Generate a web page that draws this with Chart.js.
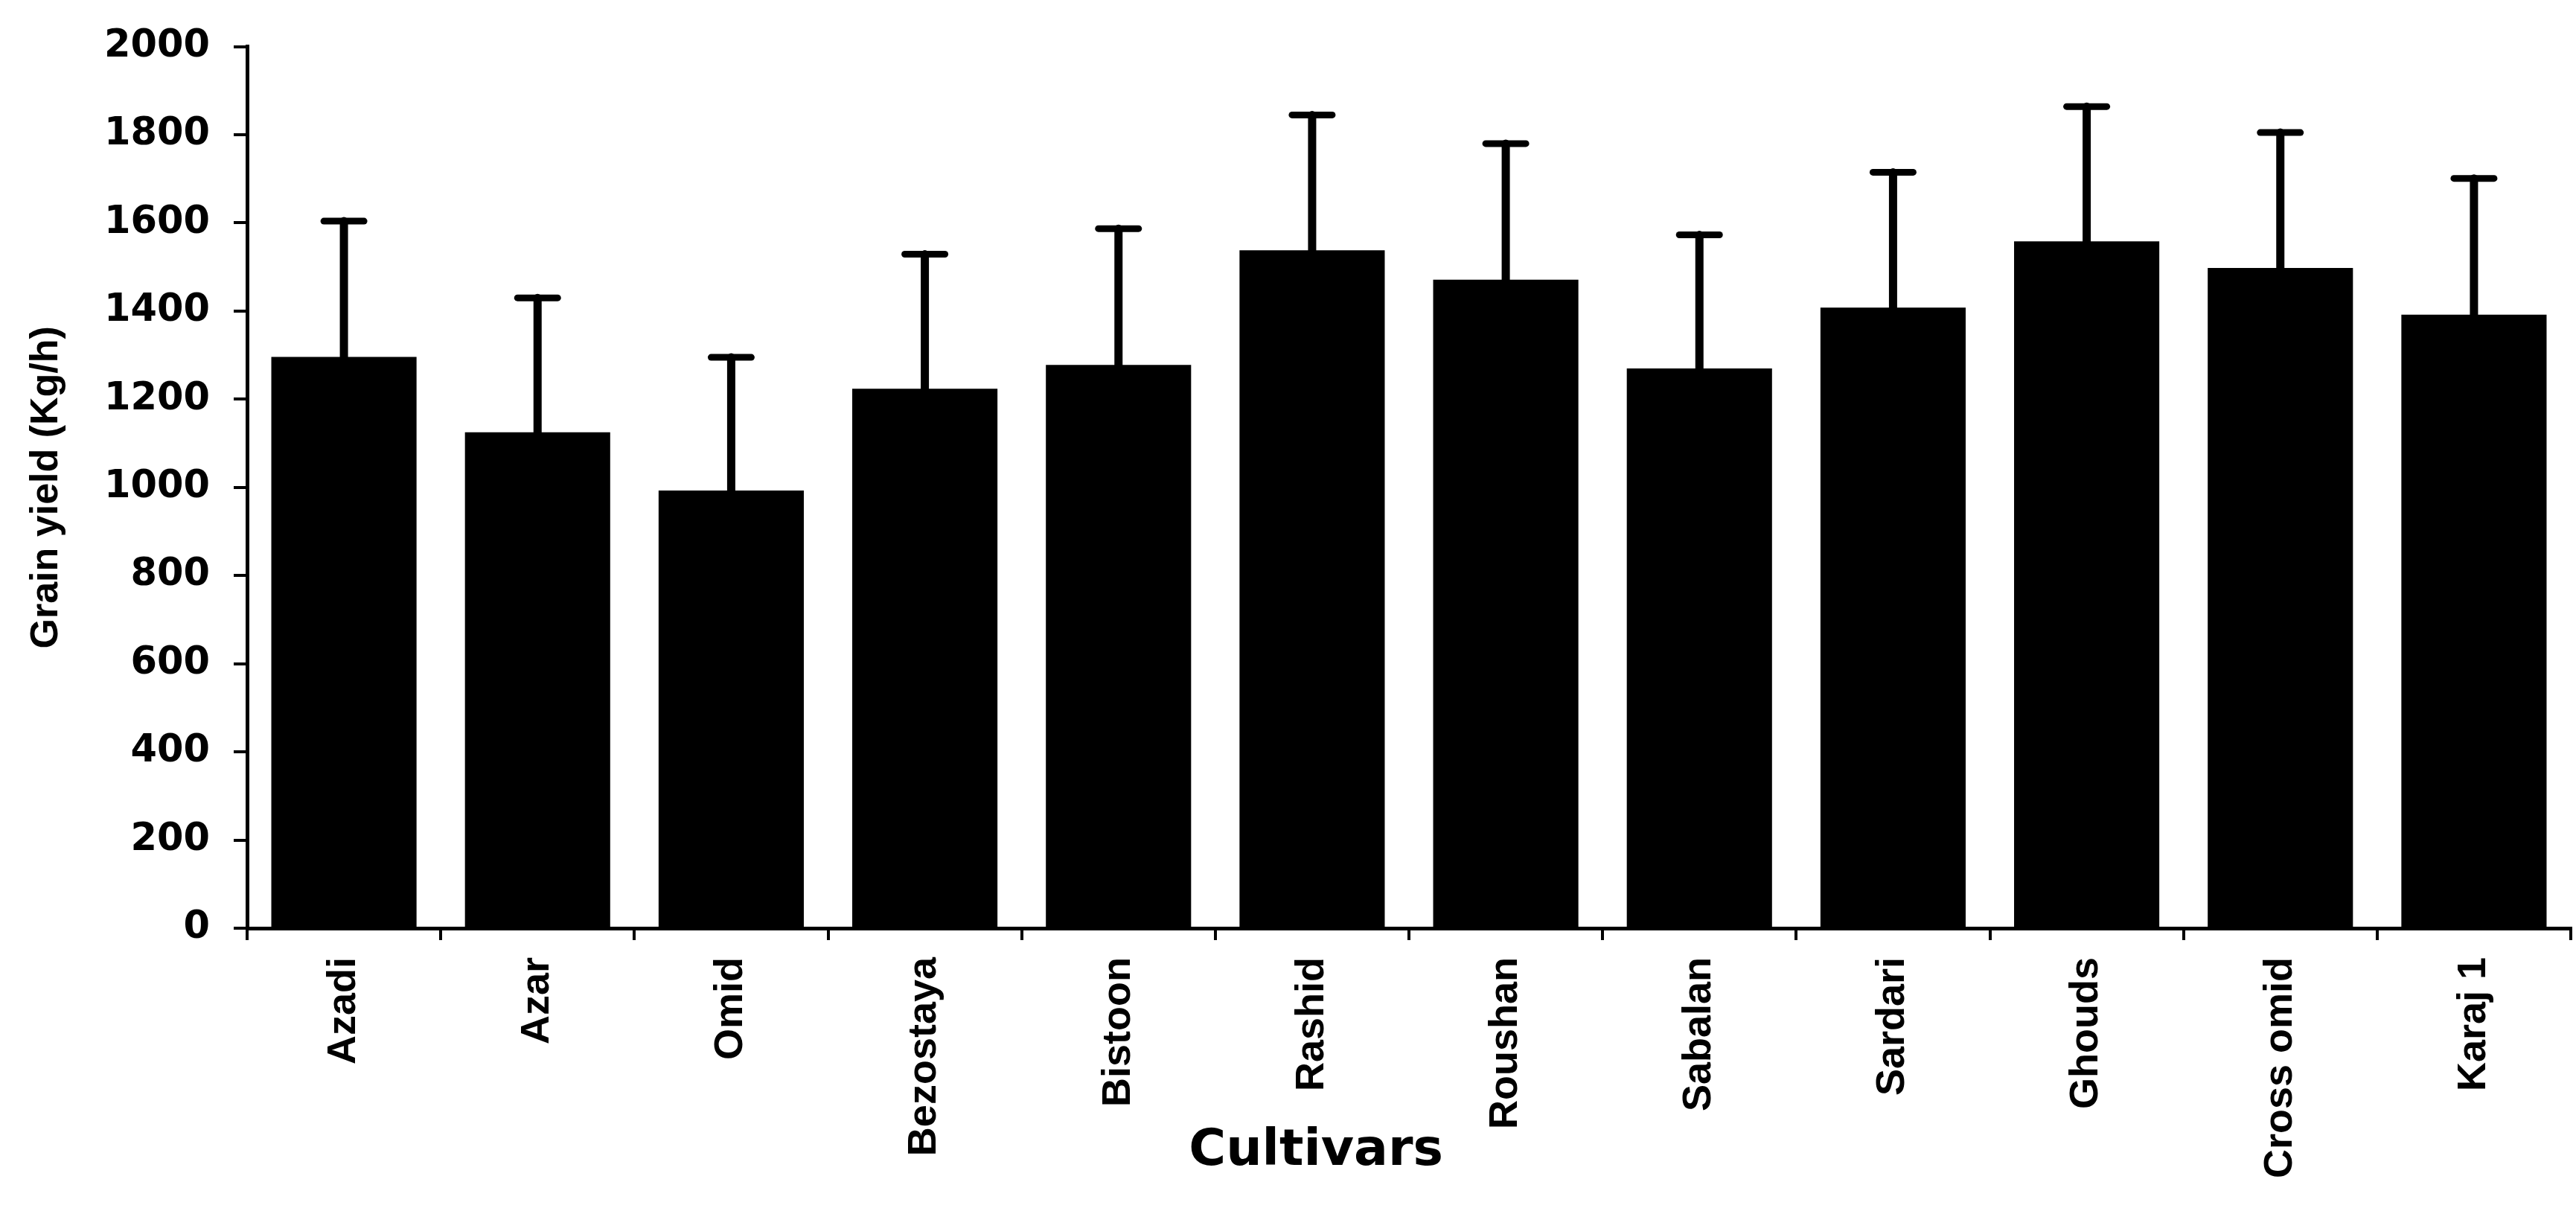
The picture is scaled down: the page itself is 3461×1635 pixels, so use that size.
<!DOCTYPE html>
<html>
<head>
<meta charset="utf-8">
<script src="https://cdn.jsdelivr.net/npm/chart.js@4.4.1/dist/chart.umd.min.js"></script>
<style>
  html, body { margin: 0; padding: 0; background: #fff; }
</style>
</head>
<body>
<canvas id="yieldChart" width="3461" height="1635"></canvas>
<script>
// data
const cultivars = ["Azadi", "Azar", "Omid", "Bezostaya", "Bistoon", "Rashid", "Roushan", "Sabalan", "Sardari", "Ghouds", "Cross omid", "Karaj 1"];
const grainYield = [1296, 1125, 993, 1224, 1278, 1538, 1471, 1270, 1408, 1558, 1498, 1392];
const errorTop = [1604, 1430, 1295, 1529, 1587, 1845, 1780, 1573, 1715, 1864, 1805, 1701];
const yTicks = [0, 200, 400, 600, 800, 1000, 1200, 1400, 1600, 1800, 2000];
const yTitle = "Grain yield (Kg/h)";
const xTitle = "Cultivars";

// error bars: stem + cap above each bar
const errorBars = {
  id: "errorBars",
  afterDatasetsDraw(chart) {
    const ctx = chart.ctx;
    const y = chart.scales.y;
    chart.getDatasetMeta(0).data.forEach((bar, i) => {
      const top = y.getPixelForValue(errorTop[i]);
      ctx.save();
      ctx.strokeStyle = "#000";
      ctx.lineCap = "round";
      ctx.lineWidth = 11;
      ctx.beginPath();
      ctx.moveTo(bar.x, bar.y);
      ctx.lineTo(bar.x, top);
      ctx.stroke();
      ctx.lineWidth = 9;
      ctx.beginPath();
      ctx.moveTo(bar.x - 27, top);
      ctx.lineTo(bar.x + 27, top);
      ctx.stroke();
      ctx.restore();
    });
  }
};

// x title sits a bit left of centre and overlaps the long labels
const xTitlePlugin = {
  id: "xTitle",
  afterDraw(chart) {
    const { ctx, chartArea } = chart;
    ctx.save();
    ctx.font = "bold 68px 'DejaVu Sans'";
    ctx.fillStyle = "#000";
    ctx.textAlign = "center";
    ctx.textBaseline = "middle";
    ctx.fillText(xTitle, chartArea.left + chartArea.width * 0.46, chart.height - 88);
    ctx.restore();
  }
};

new Chart(document.getElementById("yieldChart"), {
  type: "bar",
  data: {
    labels: cultivars,
    datasets: [{
      data: grainYield,
      backgroundColor: "#000",
      borderWidth: 0,
      barPercentage: 0.75,
      categoryPercentage: 1.0
    }]
  },
  options: {
    responsive: false,
    devicePixelRatio: 1,
    animation: false,
    layout: { padding: { top: 61, right: 7, bottom: 0, left: 0 } },
    plugins: {
      legend: { display: false },
      tooltip: { enabled: false }
    },
    scales: {
      x: {
        afterFit(scale) { scale.height = 388; },
        grid: {
          offset: true,
          drawOnChartArea: false,
          drawTicks: true,
          tickLength: 16,
          color: "#000",
          lineWidth: 4
        },
        border: { display: true, color: "#000", width: 5 },
        ticks: {
          color: "#000",
          autoSkip: false,
          maxRotation: 90,
          minRotation: 90,
          padding: 23,
          font: { family: "'Liberation Sans'", weight: "bold", size: 54 }
        }
      },
      y: {
        min: 0,
        max: 2000,
        afterFit(scale) { scale.width = 332; },
        afterBuildTicks(scale) { scale.ticks = yTicks.map(v => ({ value: v })); },
        grid: {
          drawOnChartArea: false,
          drawTicks: true,
          tickLength: 18,
          color: "#000",
          lineWidth: 4
        },
        border: { display: true, color: "#000", width: 5 },
        ticks: {
          color: "#000",
          padding: 32,
          callback: v => String(v),
          font: { family: "'DejaVu Sans'", weight: "bold", size: 51 }
        },
        title: {
          display: true,
          text: yTitle,
          color: "#000",
          padding: { top: 31, bottom: 0 },
          font: { family: "'Liberation Sans'", weight: "bold", size: 52 }
        }
      }
    }
  },
  plugins: [errorBars, xTitlePlugin]
});
</script>
</body>
</html>
